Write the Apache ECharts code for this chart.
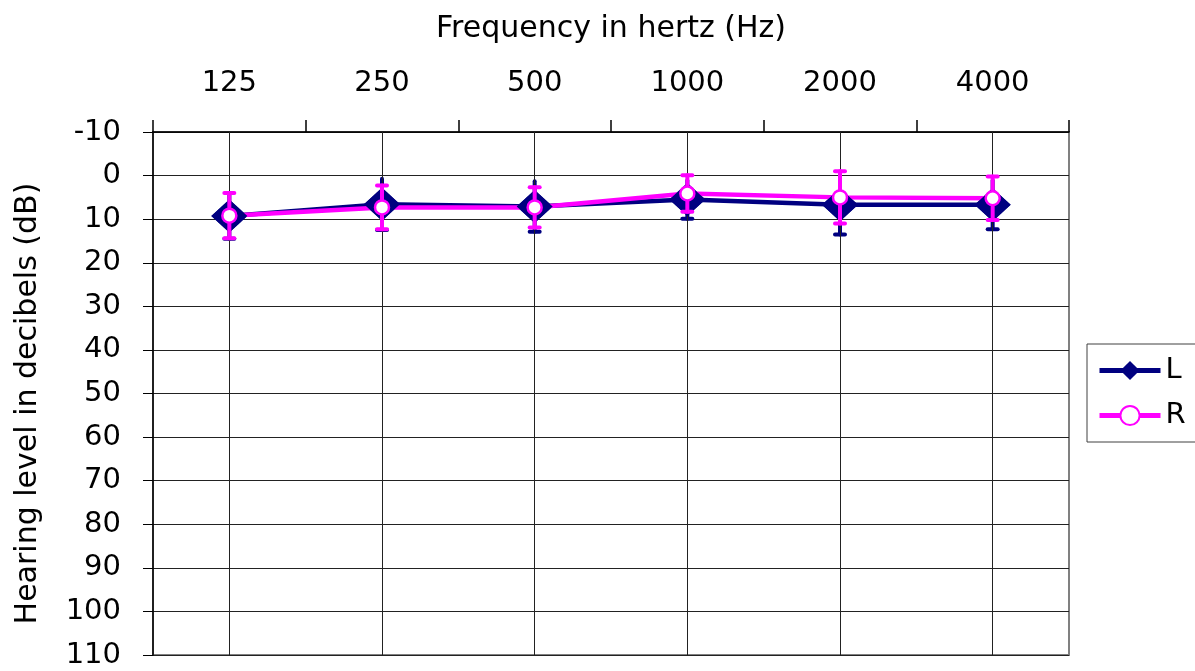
<!DOCTYPE html>
<html>
<head>
<meta charset="utf-8">
<style>
  html, body { margin: 0; padding: 0; background: #fff; }
  #chart { width: 1195px; height: 671px; }
</style>
<script src="https://cdn.jsdelivr.net/npm/echarts@6/dist/echarts.min.js"></script>
</head>
<body>
<div id="chart"></div>
<script>
// Audiogram: mean hearing thresholds per frequency, left and right ear, ±1 SD
const frequencies = ['125', '250', '500', '1000', '2000', '4000'];
const leftMean  = [9.3, 6.6, 7.1, 5.5, 6.7, 6.7];
const leftSD    = [5.2, 5.9, 5.8, 4.4, 6.8, 5.6];
const rightMean = [9.2, 7.3, 7.3, 4.1, 5.0, 5.2];
const rightSD   = [5.2, 5.0, 4.6, 4.2, 6.0, 5.0];
const yTicks = { min: -10, max: 110, step: 10 };

const NAVY = '#000080';
const MAGENTA = '#FF00FF';
const FONT = 'DejaVu Sans';

// Error bar renderer: a stem from mean-sd to mean+sd with caps.
// capTop=false leaves the upper end bare.
function errorBars(color, capTop) {
  return function (params, api) {
    const i = api.value(0), m = api.value(1), s = api.value(2);
    const top = api.coord([i, m - s]);
    const bot = api.coord([i, m + s]);
    const half = 5;
    const style = { stroke: color, lineWidth: 4, lineCap: 'round' };
    const children = [
      { type: 'line', shape: { x1: top[0], y1: top[1], x2: bot[0], y2: bot[1] }, style: style },
      { type: 'line', shape: { x1: bot[0] - half, y1: bot[1], x2: bot[0] + half, y2: bot[1] }, style: style }
    ];
    if (capTop) {
      children.push({ type: 'line', shape: { x1: top[0] - half, y1: top[1], x2: top[0] + half, y2: top[1] }, style: style });
    }
    return { type: 'group', children: children };
  };
}

const chart = echarts.init(document.getElementById('chart'), null, { renderer: 'canvas' });

chart.setOption({
  animation: false,
  backgroundColor: '#fff',
  textStyle: { fontFamily: FONT, color: '#000' },
  grid: {
    left: 153, top: 132, right: 126, bottom: 16,
    outerBoundsMode: 'none',
    containLabel: false,
    show: true, borderColor: '#808080', borderWidth: 2, backgroundColor: '#fff'
  },
  legend: {
    left: 1087, top: 344,
    orient: 'vertical',
    data: ['L', 'R'],
    itemWidth: 61, itemHeight: 24, itemGap: 16,
    padding: [12, 60, 12, 10],
    borderColor: '#404040', borderWidth: 1,
    lineStyle: { width: 5 },
    textStyle: { fontFamily: FONT, fontSize: 29, color: '#000' }
  },
  xAxis: {
    type: 'category',
    position: 'top',
    data: frequencies,
    boundaryGap: true,
    name: 'Frequency in hertz (Hz)',
    nameLocation: 'middle',
    nameGap: 88,
    nameTextStyle: { fontFamily: FONT, fontSize: 30, color: '#000' },
    axisLine: { show: true, onZero: false, lineStyle: { color: '#000', width: 1.5 } },
    axisTick: { show: true, inside: false, length: 12, lineStyle: { color: '#000', width: 1.5 } },
    axisLabel: { fontFamily: FONT, fontSize: 29, color: '#000', margin: 34 },
    splitLine: { show: false }
  },
  yAxis: {
    type: 'value',
    inverse: true,
    min: yTicks.min, max: yTicks.max, interval: yTicks.step,
    name: 'Hearing level in decibels (dB)',
    nameLocation: 'middle',
    nameGap: 110,
    nameTextStyle: { fontFamily: FONT, fontSize: 30, color: '#000', padding: [0, 20, 0, 0] },
    axisLine: { show: true, onZero: false, lineStyle: { color: '#000', width: 1.5 } },
    axisTick: { show: true, inside: false, length: 10, lineStyle: { color: '#000', width: 1 } },
    axisLabel: { fontFamily: FONT, fontSize: 29, color: '#000', margin: 32 },
    splitLine: { show: true, lineStyle: { color: '#222', width: 1 } }
  },
  series: [
    {
      name: 'L', type: 'line', z: 2,
      data: leftMean,
      symbol: 'diamond', symbolSize: [36, 33], showSymbol: true,
      itemStyle: { color: NAVY, opacity: 1 },
      lineStyle: { color: NAVY, width: 4.5 },
      silent: true,
      markLine: {
        silent: true, symbol: 'none', label: { show: false },
        lineStyle: { color: '#222', width: 1, type: 'solid' },
        data: frequencies.map(f => ({ xAxis: f }))
      }
    },
    {
      name: 'R', type: 'line', z: 3,
      data: rightMean,
      symbol: 'circle', symbolSize: 14, showSymbol: false,
      itemStyle: { color: '#fff', borderColor: MAGENTA, borderWidth: 2, opacity: 1 },
      lineStyle: { color: MAGENTA, width: 4.5 },
      silent: true
    },
    {
      name: 'L-sd', type: 'custom', z: 4,
      renderItem: errorBars(NAVY, false),
      encode: { x: 0, y: 1 },
      data: frequencies.map((f, i) => [i, leftMean[i], leftSD[i]]),
      silent: true
    },
    {
      name: 'L-mark', type: 'scatter', z: 5,
      data: leftMean,
      symbol: 'diamond', symbolSize: [36, 33],
      itemStyle: { color: NAVY, opacity: 1 },
      silent: true
    },
    {
      name: 'R-sd', type: 'custom', z: 6,
      renderItem: errorBars(MAGENTA, true),
      encode: { x: 0, y: 1 },
      data: frequencies.map((f, i) => [i, rightMean[i], rightSD[i]]),
      silent: true
    },
    {
      name: 'R-mark', type: 'scatter', z: 7,
      data: rightMean,
      symbol: 'circle', symbolSize: 14,
      itemStyle: { color: '#fff', borderColor: MAGENTA, borderWidth: 2.5, opacity: 1 },
      silent: true
    }
  ]
});
</script>
</body>
</html>
